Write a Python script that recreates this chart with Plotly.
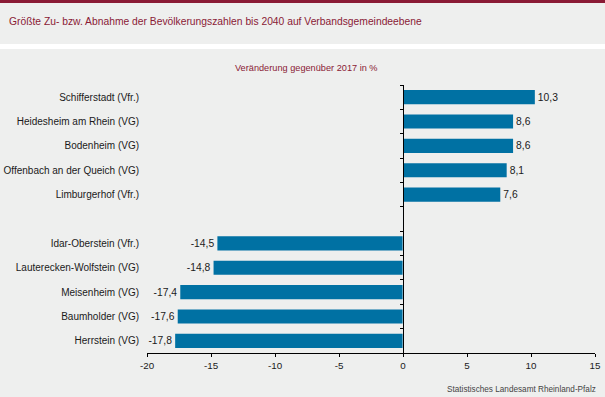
import plotly.graph_objects as go

categories = [
    "Schifferstadt (Vfr.)",
    "Heidesheim am Rhein (VG)",
    "Bodenheim (VG)",
    "Offenbach an der Queich (VG)",
    "Limburgerhof (Vfr.)",
    " ",
    "Idar-Oberstein (Vfr.)",
    "Lauterecken-Wolfstein (VG)",
    "Meisenheim (VG)",
    "Baumholder (VG)",
    "Herrstein (VG)",
]
values = [10.3, 8.6, 8.6, 8.1, 7.6, None, -14.5, -14.8, -17.4, -17.6, -17.8]
x_ticks = [-20, -15, -10, -5, 0, 5, 10, 15]
x_ticklabels = ["-20", "-15", "-10", "-5", "0", "5", "10", "15"]

title = "Größte Zu- bzw. Abnahme der Bevölkerungszahlen bis 2040 auf Verbandsgemeindeebene"
subtitle = "Veränderung gegenüber 2017 in %"
source = "Statistisches Landesamt Rheinland-Pfalz"

BG = "#EEEFEE"
RED = "#8A1A35"
BAR = "#0071A3"
FONT = "Liberation Sans, Arial, sans-serif"

labels = ["" if v is None else f"{v:.1f}".replace(".", ",") for v in values]

W, H = 605, 397
ml, mr, mt, mb = 147, 10, 85, 44
pw, ph = W - ml - mr, H - mt - mb

def px(x):
    return (x - ml) / pw

def py(y):
    return (H - mb - y) / ph

fig = go.Figure()
fig.add_trace(go.Bar(
    x=values, y=categories, orientation="h",
    marker=dict(color=BAR, line=dict(width=0)),
    text=labels, textposition="outside", cliponaxis=False,
    textfont=dict(family=FONT, size=10.3, color="#1a1a1a"),
    hoverinfo="skip", width=0.58,
))
# invisible trace carrying the axis drawn at zero with boundary ticks
fig.add_trace(go.Bar(
    x=[0 for v in values], y=categories, orientation="h",
    yaxis="y2", marker=dict(color="rgba(0,0,0,0)"), hoverinfo="skip",
    showlegend=False,
))

zero_pos = (0 - x_ticks[0]) / (x_ticks[-1] - x_ticks[0])

fig.update_layout(
    width=W, height=H, autosize=False,
    margin=dict(l=ml, r=mr, t=mt, b=mb, autoexpand=False),
    paper_bgcolor=BG, plot_bgcolor=BG,
    showlegend=False, barmode="overlay",
    font=dict(family=FONT, size=10, color="#1a1a1a"),
    xaxis=dict(
        range=[x_ticks[0], x_ticks[-1]], tickvals=x_ticks, ticktext=x_ticklabels,
        showgrid=False, zeroline=False, showline=True, linecolor="black", linewidth=1,
        ticks="outside", ticklen=3, tickcolor="black", tickwidth=1,
        tickfont=dict(size=9.8, color="#1a1a1a"), fixedrange=True, automargin=False,
    ),
    yaxis=dict(
        categoryorder="array", categoryarray=categories, autorange="reversed",
        showgrid=False, zeroline=False, showline=False, ticks="",
        ticklabelstandoff=7,
        tickfont=dict(size=10, color="#1a1a1a"), fixedrange=True, automargin=False,
    ),
    yaxis2=dict(
        overlaying="y", anchor="free", position=zero_pos, side="left",
        matches="y", categoryorder="array", categoryarray=categories,
        showticklabels=False, showgrid=False, zeroline=False,
        showline=True, linecolor="black", linewidth=1,
        ticks="outside", ticklen=3, tickcolor="black", tickson="boundaries",
        fixedrange=True, automargin=False,
    ),
    shapes=[
        dict(type="rect", xref="paper", yref="paper", x0=px(0), x1=px(W),
             y0=py(3), y1=py(-2), fillcolor=RED, line=dict(width=0), layer="below"),
        dict(type="rect", xref="paper", yref="paper", x0=px(0), x1=px(W),
             y0=py(49), y1=py(44), fillcolor="white", line=dict(width=0), layer="below"),
    ],
    annotations=[
        dict(text=title, xref="paper", yref="paper", x=px(7), y=py(21),
             xanchor="left", yanchor="middle", showarrow=False,
             font=dict(family=FONT, size=10.3, color=RED)),
        dict(text=subtitle, xref="paper", yref="paper", x=px(306), y=py(68),
             xanchor="center", yanchor="middle", showarrow=False,
             font=dict(family=FONT, size=9.2, color=RED)),
        dict(text=source, xref="paper", yref="paper", x=px(598), y=py(389),
             xanchor="right", yanchor="middle", showarrow=False,
             font=dict(family=FONT, size=8.2, color="#444444")),
    ],
)

fig.write_html(
    "out.html",
    config={"displayModeBar": False},
    post_script="document.body.style.margin='0';document.body.style.overflow='hidden';",
)
